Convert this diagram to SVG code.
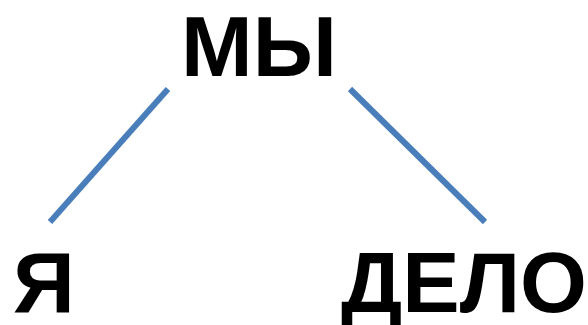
<svg xmlns="http://www.w3.org/2000/svg" width="588" height="325" viewBox="0 0 588 325">
<style>
.t{font-family:"Liberation Sans",Arial,sans-serif;font-weight:bold;font-size:86px;fill:#000}
.c{stroke:#4a7ebb;stroke-width:6;fill:none}
</style>
<rect width="588" height="325" fill="#fff"/>
<g id="connectors">
<line class="c" x1="168" y1="89" x2="50" y2="222"/>
<line class="c" x1="350" y1="89" x2="485" y2="222"/>
</g>
<g id="node-my"><text class="t" x="181" y="76">МЫ</text></g>
<g id="node-ya"><text class="t" x="13" y="312">Я</text></g>
<g id="node-delo"><text class="t" x="341" y="312">ДЕЛО</text></g>
</svg>
